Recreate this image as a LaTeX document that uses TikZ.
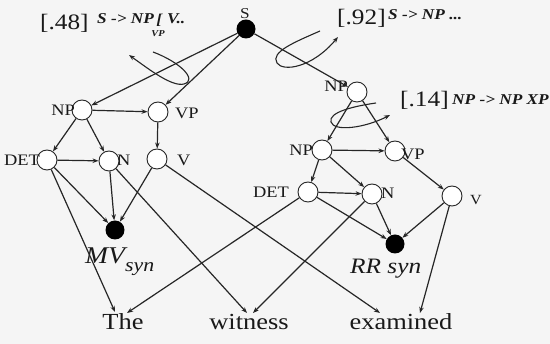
\documentclass[tikz,border=0pt]{standalone}
\usepackage{fontspec}
\setmainfont{Liberation Serif}[FakeStretch=1.15]
\usetikzlibrary{arrows.meta}
\begin{document}
\begin{tikzpicture}[x=1pt,y=-1pt,
  st/.style={circle,draw=black!85,line width=0.9pt,fill=white,minimum size=20pt,inner sep=0pt},
  sf/.style={circle,fill=black,minimum size=19pt,inner sep=0pt},
  lab/.style={font=\fontsize{16}{16}\selectfont,inner sep=0pt,text=black!90},
  edge/.style={draw=black!85,line width=1.2pt,-{Stealth[length=6pt,width=4.5pt]}},
  loopa/.style={draw=black!85,line width=1.1pt,-{Stealth[length=6pt,width=4.5pt]}},
  word/.style={font=\fontsize{23}{23}\selectfont,inner sep=0pt,anchor=base,text=black!90},
  rul/.style={font=\fontsize{15}{15}\selectfont\bfseries\itshape,inner sep=0pt,anchor=base west,text=black!90},
  prob/.style={font=\fontsize{22}{22}\selectfont,inner sep=0pt,anchor=base west,text=black!90},
]
\useasboundingbox[fill=black!4] (0,0) rectangle (550,344);

% nodes
\node[sf] (S) at (246,29) {};
\node[st] (lNP) at (82,110) {};
\node[st] (lVP) at (158,112) {};
\node[st] (lDET) at (47,160) {};
\node[st] (lN) at (109,161) {};
\node[st] (lV) at (157,159) {};
\node[sf] (MV) at (115,230) {};
\node[st] (rNPt) at (357,92) {};
\node[st] (rNP) at (322,150) {};
\node[st] (rVP) at (395,151) {};
\node[st] (rDET) at (308,192) {};
\node[st] (rN) at (372,194) {};
\node[st] (rV) at (452,196) {};
\node[sf] (RR) at (395,244) {};

% labels
\node[lab,font=\fontsize{15}{15}\selectfont] (Sl) at (245,14) {S};
\node[lab,anchor=east] (lNPl) at (75,110) {NP};
\node[lab,anchor=west] (lVPl) at (175,113) {VP};
\node[lab,anchor=east] (lDETl) at (40,160) {DET};
\node[lab,anchor=west] (lNl) at (117,160) {N};
\node[lab,anchor=west] (lVl) at (177,160) {V};
\node[lab,anchor=east] (rNPtl) at (348,86) {NP};
\node[lab,anchor=east] (rNPl) at (313,150) {NP};
\node[lab,anchor=west] (rVPl) at (401,154) {VP};
\node[lab,anchor=east] (rDETl) at (289,192) {DET};
\node[lab,anchor=west] (rNl) at (381,193) {N};
\node[lab,anchor=west,font=\fontsize{14}{14}\selectfont] (rVl) at (470,200) {V};
\node[inner sep=0pt,anchor=base west,text=black!90,font=\fontsize{24}{24}\selectfont\itshape] (MVl) at (85,264) {MV\raisebox{-8pt}{\fontsize{19}{19}\selectfont syn}};
\node[inner sep=0pt,anchor=base west,text=black!90,font=\fontsize{22}{22}\selectfont\itshape] (RRl) at (350,274) {RR syn};

% words
\node[word] (The) at (123,330) {The};
\node[word] (wit) at (249,330) {witness};
\node[word] (exa) at (401,330) {examined};
\coordinate (tThe1) at (115,312);
\coordinate (tThe2) at (127,313);
\coordinate (tWit1) at (247,313);
\coordinate (tWit2) at (253,313);
\coordinate (tEx1) at (380,313);
\coordinate (tEx2) at (420,313);

% rule annotations
\node[prob] (p48) at (40,30) {[.48]};
\node[rul] (r48) at (97,24) {S -> NP\,\rlap{\raisebox{-13pt}{\hspace{-5pt}\fontsize{9}{9}\selectfont VP}}\raisebox{-1pt}{\fontsize{15}{15}\selectfont[}\,\,V..};
\node[prob] (p92) at (337,25) {[.92]};
\node[rul] (r92) at (388,20) {S -> NP ...};
\node[prob] (p14) at (400,107) {[.14]};
\node[rul] (r14) at (452,105) {NP -> NP XP};

% edges left
\draw[edge] (S) -- (lNP);
\draw[edge] (S) -- (lVP);
\draw[edge] (S) -- (rNPt);
\draw[edge] (lNP) -- (lVP);
\draw[edge] (lNP) -- (lDET);
\draw[edge] (lNP) -- (lN);
\draw[edge] (lVP) -- (lV);
\draw[edge] (lDET) -- (lN);
\draw[edge] (lDET) -- (MV);
\draw[edge] (lN) -- (MV);
\draw[edge] (lV) -- (MV);
\draw[edge] (lDET) -- (tThe1);
\draw[edge] (lN) -- (tWit1);
\draw[edge] (lV) -- (tEx1);
% edges right
\draw[edge] (rNPt) -- (rNP);
\draw[edge] (rNPt) -- (rVP);
\draw[edge] (rNP) -- (rVP);
\draw[edge] (rNP) -- (rDET);
\draw[edge] (rNP) -- (rN);
\draw[edge] (rDET) -- (rN);
\draw[edge] (rVP) -- (rV);
\draw[edge] (rDET) -- (RR);
\draw[edge] (rN) -- (RR);
\draw[edge] (rV) -- (RR);
\draw[edge] (rDET) -- (tThe2);
\draw[edge] (rN) -- (tWit2);
\draw[edge] (rV) -- (tEx2);

% loops
\draw[loopa] (153,52) .. controls (180,62) and (198,80) .. (184,84) .. controls (172,87) and (150,70) .. (129,55);
\draw[loopa] (320,31) .. controls (295,42) and (270,52) .. (277,63) .. controls (283,72) and (312,68) .. (338,37);
\draw[loopa] (376,103) .. controls (355,106) and (328,112) .. (331,122) .. controls (334,132) and (365,128) .. (390,115);
\end{tikzpicture}
\end{document}
